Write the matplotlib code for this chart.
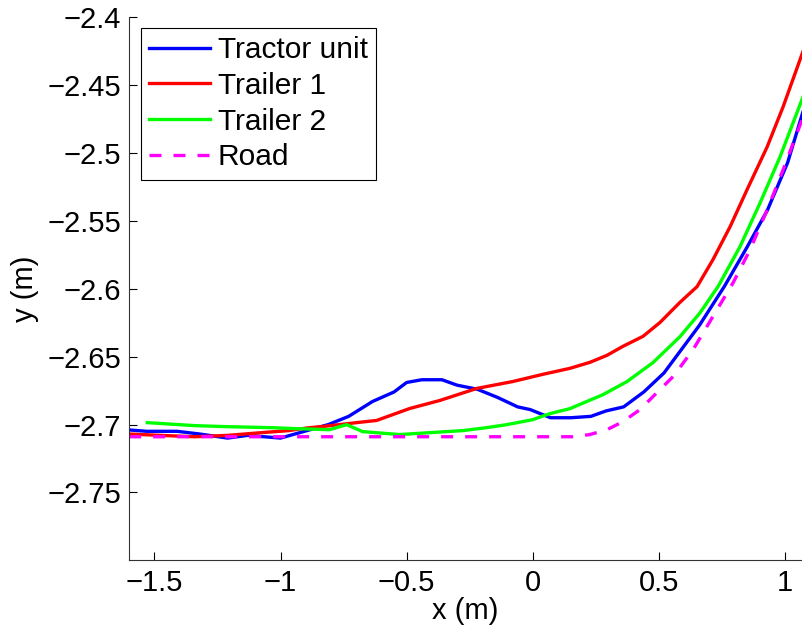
import numpy as np
import matplotlib
matplotlib.use("Agg")
import matplotlib.pyplot as plt

# Path positions (m) for each body of the vehicle and the road centreline
tractor_x = [-1.6, -1.53, -1.41, -1.32, -1.21, -1.13, -1.0, -0.905, -0.81, -0.73, -0.635, -0.55,
             -0.5, -0.44, -0.36, -0.30, -0.22, -0.14, -0.06, -0.01, 0.07, 0.15, 0.23, 0.29,
             0.36, 0.44, 0.52, 0.58, 0.66, 0.76, 0.85, 0.93, 1.01, 1.07]
tractor_y = [-2.704, -2.705, -2.705, -2.707, -2.710, -2.708, -2.710, -2.705, -2.700, -2.694,
             -2.683, -2.676, -2.669, -2.667, -2.667, -2.671, -2.674, -2.680, -2.687, -2.689,
             -2.695, -2.695, -2.694, -2.690, -2.687, -2.676, -2.662, -2.647, -2.627, -2.598,
             -2.569, -2.542, -2.507, -2.470]

trailer1_x = [-1.6, -1.476, -1.341, -1.21, -1.075, -0.968, -0.893, -0.81, -0.698, -0.619, -0.488,
              -0.369, -0.222, -0.079, 0.04, 0.147, 0.226, 0.294, 0.357, 0.437, 0.504, 0.583,
              0.651, 0.714, 0.782, 0.849, 0.929, 0.992, 1.07]
trailer1_y = [-2.707, -2.708, -2.709, -2.708, -2.706, -2.7045, -2.7025, -2.701, -2.6986, -2.697,
              -2.6882, -2.6823, -2.6734, -2.6683, -2.663, -2.6586, -2.6542, -2.649, -2.6424,
              -2.635, -2.6248, -2.61, -2.5984, -2.5785, -2.5542, -2.527, -2.4953, -2.4659, -2.4255]

trailer2_x = [-1.528, -1.341, -1.21, -1.04, -0.944, -0.806, -0.738, -0.675, -0.528, -0.409,
              -0.278, -0.183, -0.103, 0.0, 0.067, 0.147, 0.278, 0.373, 0.476, 0.583, 0.663,
              0.734, 0.821, 0.901, 0.98, 1.07]
trailer2_y = [-2.6986, -2.7008, -2.7016, -2.7023, -2.703, -2.7038, -2.7001, -2.7052, -2.7074,
              -2.706, -2.7045, -2.7023, -2.7001, -2.6964, -2.692, -2.6883, -2.678, -2.6684,
              -2.6544, -2.6353, -2.6176, -2.5984, -2.569, -2.5366, -2.5027, -2.459]

road_x = [-1.6, -1.0, -0.5, 0.0, 0.1, 0.159, 0.226, 0.294, 0.357, 0.425, 0.492, 0.556, 0.635,
          0.794, 0.861, 0.929, 0.992, 1.07]
road_y = [-2.709, -2.709, -2.709, -2.709, -2.709, -2.709, -2.7074, -2.7038, -2.6979, -2.689,
          -2.6765, -2.6647, -2.6449, -2.5955, -2.5712, -2.5418, -2.5123, -2.474]

xticks = [-1.5, -1, -0.5, 0, 0.5, 1]
yticks = [-2.75, -2.7, -2.65, -2.6, -2.55, -2.5, -2.45, -2.4]


def fmt(v):
    s = ("%g" % v)
    return s.replace("-", "\u2212")


def plot_paths():
    plt.rcParams['font.family'] = ['Liberation Sans', 'DejaVu Sans']
    fs = 21

    fig = plt.figure(figsize=(8.02, 6.33), dpi=100)
    ax = fig.add_axes([0.161, 0.115, 0.839, 0.8574])

    lw = 2.4
    ax.plot(tractor_x, tractor_y, color='#0000ff', lw=lw, label='Tractor unit')
    ax.plot(trailer1_x, trailer1_y, color='#ff0000', lw=lw, label='Trailer 1')
    ax.plot(trailer2_x, trailer2_y, color='#00ff00', lw=lw, label='Trailer 2')
    ax.plot(road_x, road_y, color='#ff00ff', lw=lw, linestyle=(0, (3.6, 3.6)), label='Road')

    ax.set_xlim(-1.6, 1.067)
    ax.set_ylim(-2.8, -2.4)

    ax.set_xticks(xticks)
    ax.set_xticklabels([fmt(v) for v in xticks])
    ax.set_yticks(yticks)
    ax.set_yticklabels([fmt(v) for v in yticks])
    ax.tick_params(direction='in', length=6, width=0.8, labelsize=fs, pad=6, colors='black')

    for side in ['top', 'right']:
        ax.spines[side].set_visible(False)
    for side in ['left', 'bottom']:
        ax.spines[side].set_color('#333333')
        ax.spines[side].set_linewidth(0.8)

    ax.set_xlabel('x (m)', fontsize=fs, labelpad=0)
    ax.set_ylabel('y (m)', fontsize=fs, labelpad=6)

    leg = ax.legend(loc='upper left', bbox_to_anchor=(140.7 / 802, 1 - 27.7 / 633),
                    bbox_transform=fig.transFigure, borderaxespad=0, fontsize=21.5,
                    frameon=True, fancybox=False, edgecolor='black', framealpha=1,
                    handlelength=2.05, handletextpad=0.25, labelspacing=0.26,
                    borderpad=0.28)
    leg.get_frame().set_linewidth(0.8)

    fig.savefig('out.png', dpi=100)


if __name__ == '__main__':
    plot_paths()
